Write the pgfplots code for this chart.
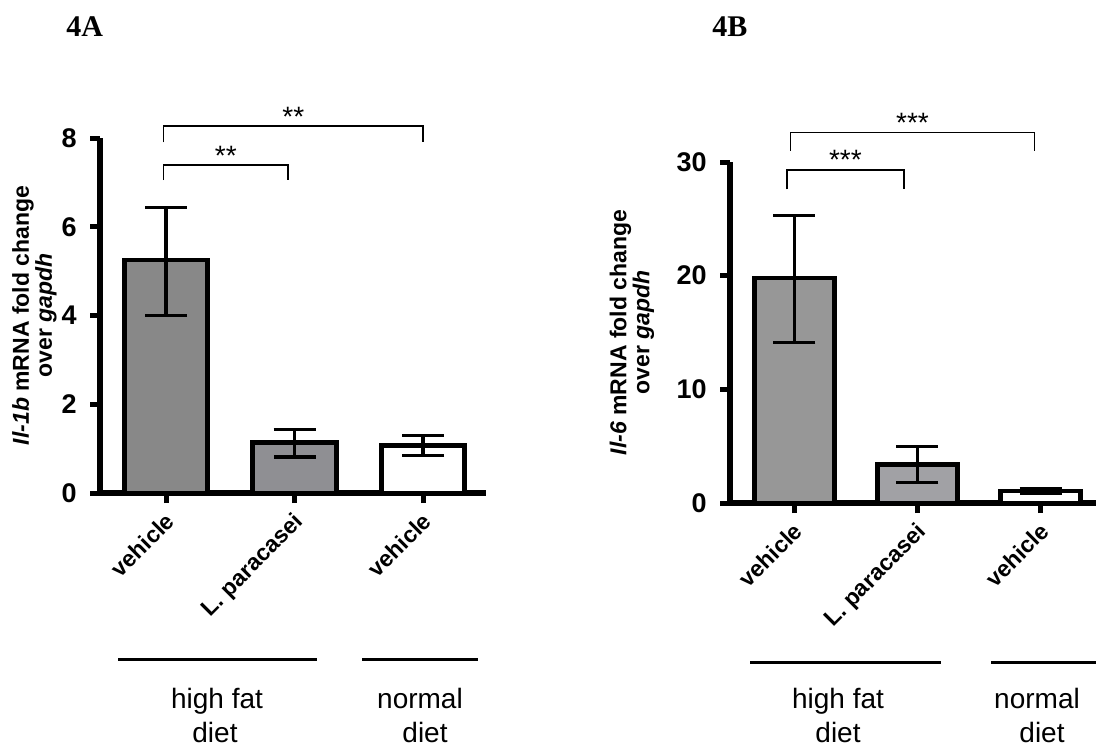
\documentclass[border=0pt]{standalone}
\usepackage{pgfplots}
\pgfplotsset{compat=1.18}
\usepackage{fontspec}
\setmainfont{Liberation Sans}
\newfontfamily\serifont{Liberation Serif}
\definecolor{barA}{HTML}{888888}
\definecolor{barB}{HTML}{8F8F93}
\definecolor{barC}{HTML}{979797}
\definecolor{barD}{HTML}{A1A1A5}
\begin{document}
\begin{tikzpicture}
\useasboundingbox (0,0) rectangle (548pt,372.5pt);
\pgfplotsset{
  fig/.style={
    scale only axis, clip=false,
    axis x line*=bottom, axis y line*=left,
    axis line style={line width=3pt,-},
    ymin=0,
    xtick={0,1,2}, xticklabels={vehicle,L. paracasei,vehicle},
    xticklabel style={rotate=45, anchor=north east, inner sep=1pt, xshift=-2.5pt, yshift=-1pt,
      font=\bfseries\fontsize{11.5}{12}\selectfont},
    yticklabel style={font=\bfseries\fontsize{13.5}{13.5}\selectfont, inner sep=1pt, xshift=-5.5pt},
    /pgf/number format/assume math mode=true,
    tick style={line width=2.5pt, black},
    major tick length=5pt, tick align=outside,
    ybar, bar width=0.65,
    ylabel style={font=\bfseries\fontsize{11.5}{11.5}\selectfont, align=center, anchor=center},
  },
  barst/.style={bar shift=0pt, draw=black, line width=2.4pt, fill=#1,
    error bars/.cd, y dir=both, y explicit,
    error bar style={line width=1.6pt, black},
    error mark options={line width=1.6pt, black, mark size=10.5pt, rotate=90}},
}
% ---------- 4A ----------
\begin{axis}[fig, at={(50pt,126pt)}, anchor=south west,
  width=193pt, height=177.5pt,
  xmin=-0.514, xmax=2.49, ymax=8, ytick={0,2,4,6,8},
  ylabel={\textit{Il-1b} mRNA fold change\\over \textit{gapdh}},
  ylabel style={at={(axis description cs:-0.17,0.5)}}]
\addplot[barst=barA] coordinates {(0,5.25) += (0,1.18) -= (0,1.25)};
\addplot[barst=barB] coordinates {(1,1.13) += (0,0.30) -= (0,0.32)};
\addplot[barst=white] coordinates {(2,1.07) += (0,0.22) -= (0,0.22)};
\draw[line width=0.7pt] (axis cs:-0.02,7.05) -- (axis cs:-0.02,7.39) -- (axis cs:0.95,7.39) -- (axis cs:0.95,7.05);
\draw[line width=0.7pt] (axis cs:-0.02,7.90) -- (axis cs:-0.02,8.27) -- (axis cs:2.0,8.27) -- (axis cs:2.0,7.90);
\node[anchor=base, font=\fontsize{14}{14}\selectfont, inner sep=0pt] at (axis cs:0.465,7.39) {**};
\node[anchor=base, font=\fontsize{14}{14}\selectfont, inner sep=0pt] at (axis cs:0.99,8.27) {**};
\end{axis}
% ---------- 4B ----------
\begin{axis}[fig, at={(365pt,121pt)}, anchor=south west,
  width=183pt, height=170.5pt,
  xmin=-0.522, xmax=2.45, ymax=30, ytick={0,10,20,30},
  ylabel={\textit{Il-6} mRNA fold change\\over \textit{gapdh}},
  ylabel style={at={(axis description cs:-0.268,0.5)}}]
\addplot[barst=barC] coordinates {(0,19.8) += (0,5.5) -= (0,5.7)};
\addplot[barst=barD] coordinates {(1,3.4) += (0,1.55) -= (0,1.6)};
\addplot[barst=white] coordinates {(2,1.05) += (0,0.2) -= (0,0.2)};
\draw[line width=0.7pt] (axis cs:-0.06,27.6) -- (axis cs:-0.06,29.3) -- (axis cs:0.89,29.3) -- (axis cs:0.89,27.6);
\draw[line width=0.7pt] (axis cs:-0.03,31.0) -- (axis cs:-0.03,32.6) -- (axis cs:1.95,32.6) -- (axis cs:1.95,31.0);
\node[anchor=base, font=\fontsize{14}{14}\selectfont, inner sep=0pt] at (axis cs:0.415,29.3) {***};
\node[anchor=base, font=\fontsize{14}{14}\selectfont, inner sep=0pt] at (axis cs:0.96,32.6) {***};
\end{axis}
% titles
\node[anchor=base west, font=\serifont\bfseries\fontsize{15}{15}\selectfont, inner sep=0pt] at (33pt,354pt) {4A};
\node[anchor=base west, font=\serifont\bfseries\fontsize{15}{15}\selectfont, inner sep=0pt] at (356pt,354pt) {4B};
% group lines and labels
\draw[line width=1.5pt] (59pt,43pt) -- (158.5pt,43pt);
\draw[line width=1.5pt] (181pt,43pt) -- (239pt,43pt);
\draw[line width=1.5pt] (375pt,41.5pt) -- (470.5pt,41.5pt);
\draw[line width=1.5pt] (495.5pt,41.5pt) -- (552pt,41.5pt);
\begin{scope}[every node/.style={anchor=base, inner sep=0pt, font=\fontsize{14}{14}\selectfont}]
\node at (108.5pt,18.5pt) {high fat};
\node at (107.5pt,1.5pt) {diet};
\node at (210pt,18.5pt) {normal};
\node at (212.5pt,1.5pt) {diet};
\node at (419pt,18.5pt) {high fat};
\node at (419pt,1.5pt) {diet};
\node at (518.5pt,18.5pt) {normal};
\node at (521pt,1.5pt) {diet};
\end{scope}
\end{tikzpicture}
\end{document}
